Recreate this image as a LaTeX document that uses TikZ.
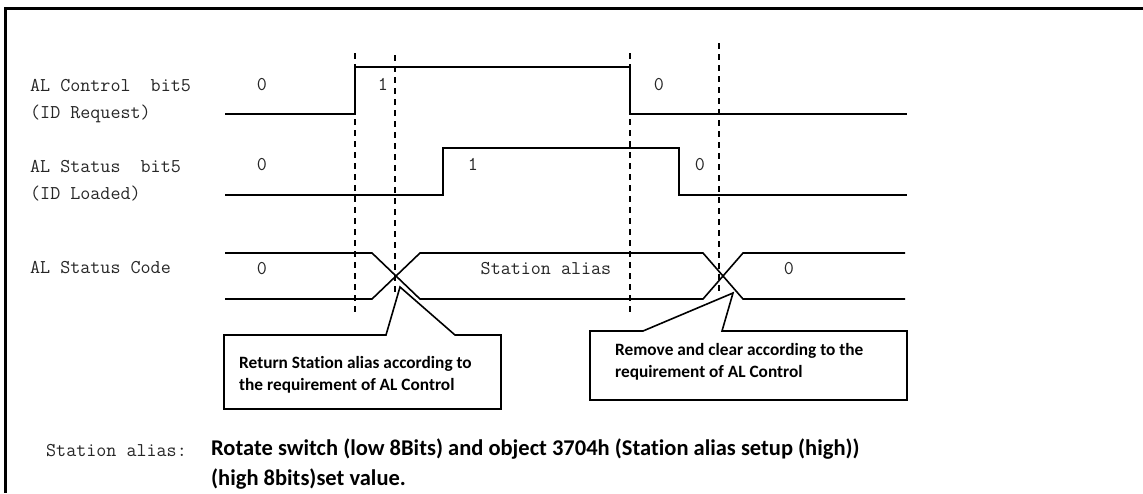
\documentclass[tikz,border=0pt]{standalone}
\usepackage{fontspec}
\newfontfamily\callfont{Carlito}[Ligatures=NoCommon]
\begin{document}
\begin{tikzpicture}[x=1pt,y=-1pt,
  sig/.style={line width=2.4pt,line join=miter},
  bus/.style={line width=1.6pt},
  guide/.style={line width=1.6pt,dash pattern=on 6pt off 5pt},
  callout/.style={line width=1.6pt,fill=white,line join=miter},
  lbl/.style={font=\fontsize{19.5}{23}\ttfamily,text=black!85,inner sep=0pt},
  note/.style={font=\fontsize{17.3}{21.5}\callfont\bfseries,align=left,inner sep=0pt},
  foot/.style={font=\fontsize{22.5}{30}\callfont\bfseries,align=left,inner sep=0pt}]
\useasboundingbox (0,0) rectangle (1143,493);
\fill[white] (0,0) rectangle (1143,493);

% outer frame (top and left edges)
\draw[line width=3pt] (1143,8) -- (5,8) -- (5,493);

% signal names
\node[lbl,anchor=base west] (ctl)  at (30,91)  {AL Control\ \ bit5};
\node[lbl,anchor=base west] (ctl2) at (30,118) {(ID Request)};
\node[lbl,anchor=base west] (sts)  at (30,172) {AL Status\ \ bit5};
\node[lbl,anchor=base west] (sts2) at (30,199) {(ID Loaded)};
\node[lbl,anchor=base west] (code) at (30,273) {AL Status Code};

% time markers
\coordinate (m1t) at (355,53);  \coordinate (m1b) at (355,315);
\coordinate (m2t) at (395,55);  \coordinate (m2b) at (395,293);
\coordinate (m3t) at (630,53);  \coordinate (m3b) at (630,315);
\coordinate (m4t) at (719,43);  \coordinate (m4b) at (719,293);
\draw[guide] (m1t) -- (m1b);
\draw[guide] (m2t) -- (m2b);
\draw[guide] (m3t) -- (m3b);
\draw[guide] (m4t) -- (m4b);

% AL Control bit5
\draw[sig] (225,114) -- (355,114) -- (355,67) -- (630,67) -- (630,114) -- (907,114);
\node[lbl,anchor=base] (c0a) at (262,90) {0};
\node[lbl,anchor=base] (c1)  at (383,90) {1};
\node[lbl,anchor=base] (c0b) at (659,90) {0};

% AL Status bit5
\draw[sig] (225,195) -- (443,195) -- (443,148) -- (679,148) -- (679,195) -- (907,195);
\node[lbl,anchor=base] (s0a) at (262,170) {0};
\node[lbl,anchor=base] (s1)  at (473,170) {1};
\node[lbl,anchor=base] (s0b) at (700,170) {0};

% AL Status Code bus
\draw[bus] (225,253) -- (372,253) -- (420,299) -- (703,299) -- (743,253) -- (905,253);
\draw[bus] (225,299) -- (372,299) -- (420,253) -- (703,253) -- (743,299) -- (905,299);
\node[lbl,anchor=base] (b0a) at (262,274) {0};
\node[lbl,anchor=base] (bsa) at (546,274) {Station alias};
\node[lbl,anchor=base] (b0b) at (789,274) {0};

% callouts (base anchor sits on the last text line)
\draw[callout] (386,335) -- (224,335) -- (224,409) -- (501,409) -- (501,335)
  -- (455,335) -- (400,287) -- cycle;
\node[note,anchor=base west] (n1) at (239,390)
  {Return Station alias according to\\the requirement of AL Control};

\draw[callout] (643,331) -- (590,331) -- (590,400) -- (907,400) -- (907,331)
  -- (722,331) -- (733,293) -- cycle;
\node[note,anchor=base west] (n2) at (615,377)
  {Remove and clear according to the\\requirement of AL Control};

% footnote
\node[lbl,anchor=base west] (fk) at (46,456) {Station alias:};
\node[foot,anchor=base west] (fv) at (211,485)
  {Rotate switch (low 8Bits) and object 3704h (Station alias setup (high))\\(high 8bits)set value.};
\end{tikzpicture}
\end{document}
